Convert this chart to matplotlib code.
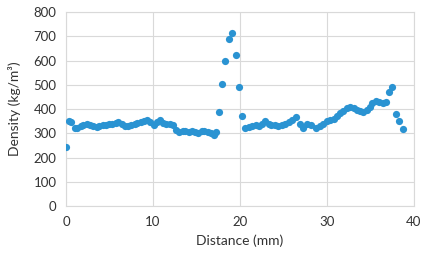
import numpy as np
import matplotlib
matplotlib.use('Agg')
import matplotlib.pyplot as plt

# Distance (mm) and density (kg/m3)
distance = [0.0, 0.3, 0.6, 1.0, 1.3, 1.7, 2.0, 2.4, 2.7, 3.1, 3.5, 3.8, 4.2, 4.6, 4.9,
            5.3, 5.7, 6.0, 6.4, 6.8, 7.1, 7.5, 7.9, 8.2, 8.6, 9.0, 9.3, 9.7, 10.1, 10.4,
            10.8, 11.2, 11.5, 11.9, 12.3, 12.6, 13.0, 13.4, 13.7, 14.1, 14.5, 14.8, 15.2,
            15.6, 15.9, 16.3, 16.7, 17.0, 17.2, 17.55, 17.93, 18.3, 18.7, 19.1, 19.5,
            19.9, 20.25, 20.6, 21.0, 21.4, 21.8, 22.2, 22.5, 22.9, 23.3, 23.6, 24.0,
            24.4, 24.8, 25.2, 25.6, 26.0, 26.4, 26.9, 27.3, 27.7, 28.2, 28.8, 29.2,
            29.6, 30.0, 30.4, 30.8, 31.2, 31.5, 31.9, 32.3, 32.7, 33.1, 33.5, 33.8,
            34.2, 34.6, 35.0, 35.2, 35.6, 36.0, 36.4, 36.8, 37.1, 37.5, 37.9, 38.3, 38.7]
density = [245, 350, 348, 322, 322, 330, 335, 338, 333, 330, 327, 330, 335, 335, 338,
           338, 342, 345, 340, 330, 330, 335, 340, 342, 345, 350, 355, 345, 335, 345,
           355, 342, 340, 340, 335, 315, 305, 310, 308, 305, 308, 305, 303,
           310, 308, 305, 300, 295, 305, 388, 504, 598, 687, 712, 624,
           492, 371, 323, 327, 330, 333, 330, 340, 352, 338, 335, 333,
           330, 335, 340, 345, 355, 368, 337, 324, 338, 335, 324, 330,
           340, 350, 355, 360, 372, 382, 393, 405, 410, 405, 398, 392,
           388, 395, 410, 425, 432, 428, 425, 428, 470, 491, 380, 350, 320]

plt.rcParams['font.family'] = ['Lato', 'DejaVu Sans']

fig = plt.figure(figsize=(4.32, 2.57), dpi=100, facecolor='white')
ax = fig.add_axes([0.153, 0.198, 0.805, 0.755])

ax.scatter(distance, density, s=27, color='#2A93D2', zorder=3, linewidths=0)

ax.set_xlim(0, 40)
ax.set_ylim(0, 800)
ax.set_xticks([0, 10, 20, 30, 40])
ax.set_yticks(range(0, 801, 100))
ax.grid(True, color='#D9D9D9', linewidth=0.8)
for s in ax.spines.values():
    s.set_color('#D9D9D9')
    s.set_linewidth(0.8)
ax.tick_params(length=0, labelsize=9.5, colors='#333333', pad=7)
ax.set_xlabel('Distance (mm)', fontsize=10, color='#333333', labelpad=5)
ax.set_ylabel('Density (kg/m³)', fontsize=10, color='#333333', labelpad=9)

plt.savefig('out.png', dpi=100)
